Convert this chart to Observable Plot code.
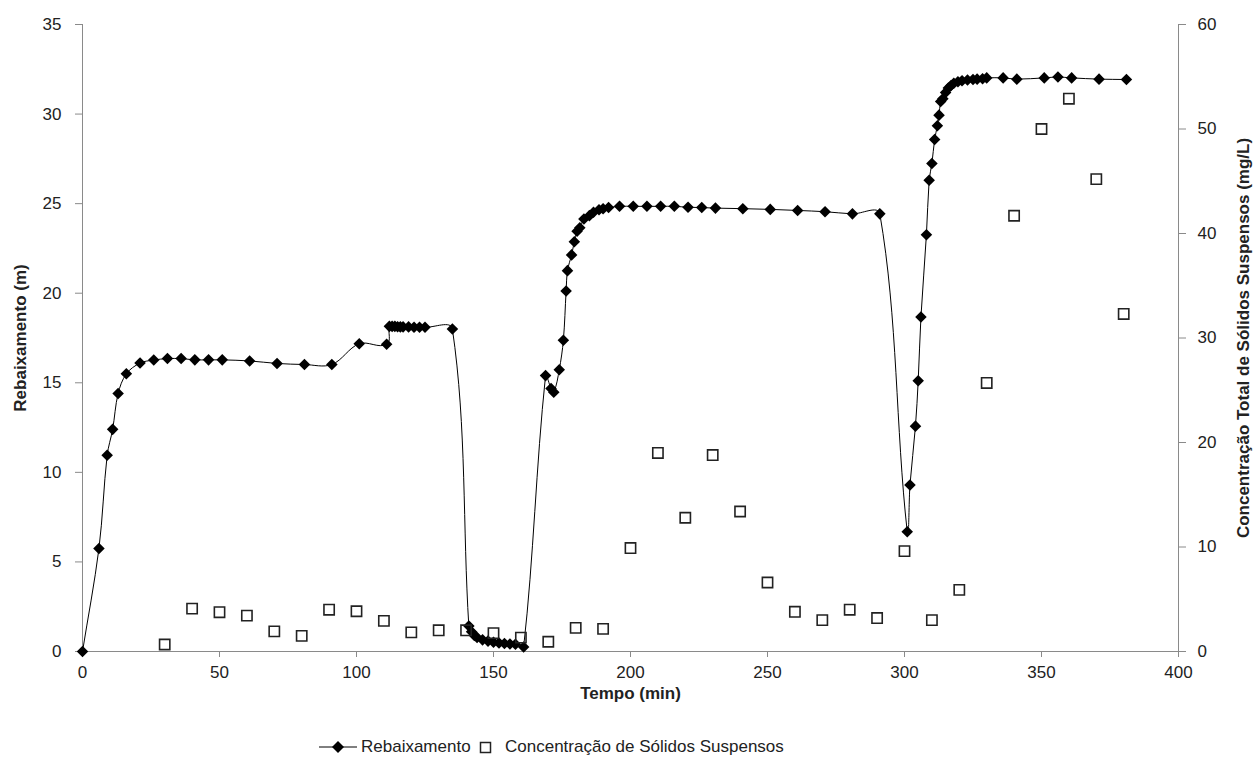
<!DOCTYPE html>
<html>
<head>
<meta charset="utf-8">
<script src="https://cdn.jsdelivr.net/npm/d3@7"></script>
<script src="https://cdn.jsdelivr.net/npm/@observablehq/plot@0.6"></script>
<style>
  html, body { margin: 0; padding: 0; background: #fff; }
  body { width: 1260px; height: 760px; position: relative; overflow: hidden;
         font-family: "Liberation Sans", Arial, sans-serif; color: #222; }
  #chart { position: absolute; left: 0; top: 0; }
  #legend { position: absolute; left: 0; top: 734px; width: 1260px; height: 26px; font-size: 17px; }
  .item { position: absolute; top: 0; display: flex; align-items: center; height: 26px; }
  .item svg { margin-right: 4px; }
</style>
</head>
<body>
<div id="chart"></div>
<div id="legend">
  <div class="item" style="left:319px">
    <svg width="38" height="14"><line x1="0" y1="7" x2="38" y2="7" stroke="#000" stroke-width="1"/><path d="M19,1 L25,7 L19,13 L13,7 Z" fill="#000"/></svg>
    <span>Rebaixamento</span>
  </div>
  <div class="item" style="left:477px">
    <svg width="18" height="14"><rect x="3.5" y="2.5" width="10" height="10" fill="none" stroke="#222" stroke-width="1.5"/></svg>
    <span style="margin-left:6px">Concentração de Sólidos Suspensos</span>
  </div>
</div>
<script>
// Rebaixamento (m) vs Tempo (min)
const tempoReb = [0, 6, 9, 11, 13, 16, 21, 26, 31, 36, 41, 46, 51, 61, 71, 81, 91, 101, 111,
  112, 113, 114, 115, 116, 117, 119, 121, 123, 125, 135,
  141, 142, 143, 144, 146, 148, 150, 152, 154, 156, 158, 161,
  169, 171, 172, 174, 175.5, 176.5, 177, 178.5, 179.5, 180.5, 181.5, 183, 185, 186.5, 188.5, 190, 192, 196,
  201, 206, 211, 216, 221, 226, 231, 241, 251, 261, 271, 281, 291,
  301, 302, 304, 305, 306, 308, 309, 310, 311, 312, 312.6, 313.2, 314, 315, 316, 317, 318, 319.5, 321, 323, 325, 326.5, 328.5, 330,
  336, 341, 351, 356, 361, 371, 381];
const rebaixamento = [0, 5.75, 10.95, 12.4, 14.4, 15.5, 16.1, 16.27, 16.35, 16.35, 16.28, 16.28, 16.28, 16.22, 16.08, 16.02, 16.02, 17.18, 17.15,
  18.15, 18.15, 18.15, 18.13, 18.12, 18.12, 18.12, 18.1, 18.1, 18.1, 18.0,
  1.42, 1.1, 0.9, 0.78, 0.65, 0.58, 0.52, 0.48, 0.45, 0.42, 0.4, 0.25,
  15.4, 14.68, 14.47, 15.73, 17.38, 20.12, 21.26, 22.14, 22.87, 23.46, 23.65, 24.14, 24.33, 24.52, 24.66, 24.72, 24.78, 24.85,
  24.85, 24.85, 24.85, 24.85, 24.8, 24.78, 24.75, 24.72, 24.68, 24.62, 24.55, 24.43, 24.43,
  6.68, 9.3, 12.58, 15.11, 18.67, 23.26, 26.31, 27.24, 28.58, 29.35, 29.94, 30.7, 30.85, 31.2, 31.45, 31.6, 31.72, 31.8, 31.86, 31.9, 31.93, 31.95, 31.97, 32.02,
  32.02, 31.95, 32.02, 32.07, 32.02, 31.95, 31.93];

// Concentração de Sólidos Suspensos (mg/L)
const tempoSS = [30, 40, 50, 60, 70, 80, 90, 100, 110, 120, 130, 140, 150, 160, 170, 180, 190,
  200, 210, 220, 230, 240, 250, 260, 270, 280, 290, 300, 310, 320, 330, 340, 350, 360, 370, 380];
const concSS = [0.67, 4.1, 3.76, 3.43, 1.93, 1.5, 4.0, 3.85, 2.93, 1.83, 2.03, 2.03, 1.76, 1.33, 0.93, 2.26, 2.16,
  9.9, 19.0, 12.8, 18.8, 13.4, 6.6, 3.8, 3.0, 4.0, 3.2, 9.6, 3.0, 5.9, 25.7, 41.7, 50.0, 52.9, 45.2, 32.3];

const xTicks = [0, 50, 100, 150, 200, 250, 300, 350, 400];
const yLeftTicks = [0, 5, 10, 15, 20, 25, 30, 35];
const yRightTicks = [0, 10, 20, 30, 40, 50, 60];

const xLabel = "Tempo (min)";
const yLeftLabel = "Rebaixamento (m)";
const yRightLabel = "Concentração Total de Sólidos Suspensos (mg/L)";

// Spreadsheet-style smoothed line: Catmull-Rom tangent directions,
// control-point distance limited to a third of each segment's length.
function smoothCurve(context) {
  let pts = [];
  const unit = (a, b) => {
    const dx = b[0] - a[0], dy = b[1] - a[1], l = Math.hypot(dx, dy) || 1;
    return [dx / l, dy / l];
  };
  return {
    areaStart() {}, areaEnd() {},
    lineStart() { pts = []; },
    point(x, y) { pts.push([+x, +y]); },
    lineEnd() {
      const n = pts.length;
      if (!n) return;
      context.moveTo(pts[0][0], pts[0][1]);
      for (let i = 0; i < n - 1; i++) {
        const p0 = pts[Math.max(0, i - 1)], p1 = pts[i], p2 = pts[i + 1], p3 = pts[Math.min(n - 1, i + 2)];
        const d = Math.hypot(p2[0] - p1[0], p2[1] - p1[1]) / 3;
        const t1 = unit(p0, p2), t2 = unit(p1, p3);
        context.bezierCurveTo(p1[0] + t1[0] * d, p1[1] + t1[1] * d, p2[0] - t2[0] * d, p2[1] - t2[1] * d, p2[0], p2[1]);
      }
    }
  };
}

const k = 35 / 60; // right axis (0–60) mapped onto left axis (0–35)
const reb = tempoReb.map((t, i) => ({t, v: rebaixamento[i]}));
const ss = tempoSS.map((t, i) => ({t, v: concSS[i] * k}));
const axisColor = "#8a8a8a";

const chart = Plot.plot({
  width: 1260,
  height: 720,
  marginLeft: 82,
  marginRight: 82,
  marginTop: 24,
  marginBottom: 69,
  style: {fontFamily: "Liberation Sans, Arial, sans-serif", fontSize: "17px", color: "#222", background: "#fff"},
  x: {domain: [0, 400]},
  y: {domain: [0, 35]},
  marks: [
    Plot.ruleX([0, 400], {y1: 0, y2: 35, stroke: axisColor}),
    Plot.ruleY([0], {stroke: axisColor}),
    Plot.axisX(xTicks, {anchor: "bottom", tickSize: 6, tickPadding: 8, stroke: axisColor, fill: "#222", label: null, fontSize: 17}),
    Plot.axisY(yLeftTicks, {anchor: "left", tickSize: 7, tickPadding: 14, stroke: axisColor, fill: "#222", label: null, fontSize: 17}),
    Plot.axisY(yRightTicks.map(d => d * k), {anchor: "right", tickSize: 7, tickPadding: 12, stroke: axisColor, fill: "#222", label: null, fontSize: 17,
      tickFormat: d => String(Math.round(d / k))}),
    Plot.line(reb, {x: "t", y: "v", curve: smoothCurve, stroke: "#000", strokeWidth: 1}),
    Plot.dot(reb, {x: "t", y: "v", symbol: "diamond2", r: 5.2, fill: "#000", stroke: "none"}),
    Plot.dot(ss, {x: "t", y: "v", symbol: "square", r: 5.8, fill: "none", stroke: "#222", strokeWidth: 1.6}),
    Plot.text([xLabel], {frameAnchor: "bottom", dy: 42, textAnchor: "middle", lineAnchor: "middle", fontWeight: "bold", fontSize: 17, fill: "#222"}),
    Plot.text([yLeftLabel], {frameAnchor: "left", dx: -62, rotate: -90, textAnchor: "middle", lineAnchor: "middle", fontWeight: "bold", fontSize: 17, fill: "#222"}),
    Plot.text([yRightLabel], {frameAnchor: "right", dx: 65, rotate: -90, textAnchor: "middle", lineAnchor: "middle", fontWeight: "bold", fontSize: 17, fill: "#222"})
  ]
});
document.getElementById("chart").appendChild(chart);
</script>
</body>
</html>
